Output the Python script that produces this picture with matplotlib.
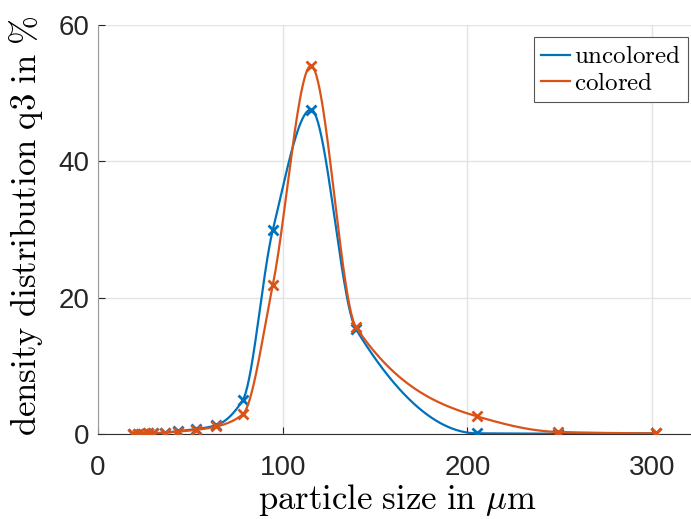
import numpy as np
from matplotlib import pyplot as plt

plt.rcParams['mathtext.fontset'] = 'cm'
plt.rcParams['font.family'] = ['Liberation Sans', 'DejaVu Sans']

# particle size classes (um) and density distribution q3 (%)
size_um = [19.0, 21.7, 24.4, 27.1, 29.8, 36.2, 43.3, 52.9, 64.1, 78.4,
           94.6, 115.3, 139.6, 205.0, 248.9, 301.8]
q3_uncolored = [0.05, 0.05, 0.05, 0.08, 0.1, 0.2, 0.4, 0.7, 1.3, 5.0,
                29.9, 47.6, 15.4, 0.1, 0.05, 0.1]
q3_colored = [0.05, 0.05, 0.05, 0.08, 0.1, 0.2, 0.35, 0.6, 1.1, 2.9,
              21.8, 54.0, 15.7, 2.6, 0.3, 0.1]
series_names = ['uncolored', 'colored']
series_colors = ['#0072BD', '#D95319']


def pchip_curve(x, y, n=600):
    # shape preserving cubic through the measured points (like matlab pchip)
    x = np.asarray(x, float)
    y = np.asarray(y, float)
    h = np.diff(x)
    delta = np.diff(y) / h
    d = np.zeros_like(y)
    for k in range(1, len(x) - 1):
        if delta[k - 1] * delta[k] > 0:
            w1 = 2 * h[k] + h[k - 1]
            w2 = h[k] + 2 * h[k - 1]
            d[k] = (w1 + w2) / (w1 / delta[k - 1] + w2 / delta[k])

    def end_slope(h0, h1, d0, d1):
        s = ((2 * h0 + h1) * d0 - h0 * d1) / (h0 + h1)
        if np.sign(s) != np.sign(d0):
            s = 0.0
        elif np.sign(d0) != np.sign(d1) and abs(s) > abs(3 * d0):
            s = 3 * d0
        return s

    d[0] = end_slope(h[0], h[1], delta[0], delta[1])
    d[-1] = end_slope(h[-1], h[-2], delta[-1], delta[-2])
    xs = np.linspace(x[0], x[-1], n)
    k = np.clip(np.searchsorted(x, xs) - 1, 0, len(x) - 2)
    t = (xs - x[k]) / h[k]
    h00 = 2 * t**3 - 3 * t**2 + 1
    h10 = t**3 - 2 * t**2 + t
    h01 = -2 * t**3 + 3 * t**2
    h11 = t**3 - t**2
    ys = h00 * y[k] + h10 * h[k] * d[k] + h01 * y[k + 1] + h11 * h[k] * d[k + 1]
    return xs, ys


fig = plt.figure(figsize=(6.91, 5.19), dpi=100)
ax = fig.add_axes([0.1418, 0.1638, 0.8582, 0.788])

for vals, name, col in zip([q3_uncolored, q3_colored], series_names, series_colors):
    xs, ys = pchip_curve(size_um, vals)
    ax.plot(xs, ys, color=col, lw=1.6, label=name, zorder=3)
    ax.plot(size_um, vals, ls='none', marker='x', ms=6.5, mew=2.0, color=col, zorder=3)

ax.set_xlim(0, 321)
ax.set_ylim(0, 60)
ax.set_xticks([0, 100, 200, 300])
ax.set_yticks([0, 20, 40, 60])
ax.grid(True, color='#e3e3e3', lw=1)
ax.set_axisbelow(True)
ax.tick_params(direction='in', length=5, labelsize=20, colors='#262626', pad=6)
ax.tick_params(axis='x', pad=15)

ax.spines['top'].set_visible(False)
ax.spines['right'].set_visible(False)
ax.spines['left'].set_color('#9a9a9a')
ax.spines['bottom'].set_color('#303030')

ax.set_xlabel(r'$\mathrm{particle\ size\ in\ }\mu\mathrm{m}$', fontsize=25)
ax.set_ylabel(r'$\mathrm{density\ distribution\ q3\ in\ \%}$', fontsize=25)
ax.xaxis.set_label_coords(0.504, -0.118)
ax.yaxis.set_label_coords(-0.089, 0.51)

leg_labels = [r'$\mathrm{%s}$' % s for s in series_names]
handles = ax.get_legend_handles_labels()[0]
leg = ax.legend(handles, leg_labels, loc='upper right', bbox_to_anchor=(0.995, 0.971),
                borderaxespad=0, fontsize=18, handlelength=1.15, handletextpad=0.15,
                labelspacing=0.1, borderpad=0.3, fancybox=False, framealpha=1,
                edgecolor='#555555')
leg.get_frame().set_linewidth(0.8)

fig.savefig('out.png', dpi=100)
